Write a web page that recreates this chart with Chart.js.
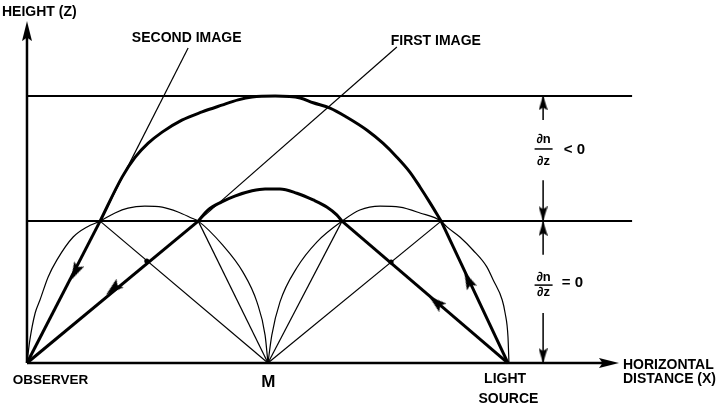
<!DOCTYPE html>
<html>
<head>
<meta charset="utf-8">
<script src="https://cdn.jsdelivr.net/npm/chart.js@4.4.1/dist/chart.umd.min.js"></script>
<style>
html,body{margin:0;padding:0;background:#fff;overflow:hidden}
canvas{display:block}
</style>
</head>
<body>
<canvas id="myChart" width="718" height="408"></canvas>
<script>
// horizontal distance: observer at 0, M at 5, light source at 10 (same unit for height)
var layerTop = 5.55;
var layerBase = 2.95;
var layerEnd = 12.58;

// thick ray paths (light source -> observer)
var secondImageRay = [[0,0],[1.52,2.95]];
var firstImageRay = [[0,0],[3.56,2.95]];
var sourceRayHigh = [[10,0],[8.61,2.95]];
var sourceRayLow = [[10,0],[6.55,2.95]];
var bigArc = [[1.52,2.95],[1.98,3.87],[2.25,4.28],[2.52,4.57],[2.81,4.80],[3.22,5.05],[3.64,5.22],[4.05,5.36],[4.39,5.47],[4.68,5.53],[5.16,5.55],[5.68,5.51],[5.95,5.41],[6.30,5.30],[6.65,5.11],[7.07,4.84],[7.40,4.57],[7.69,4.28],[7.96,3.97],[8.17,3.66],[8.38,3.33],[8.61,2.95]];
var smallArc = [[3.56,2.95],[3.76,3.18],[4.05,3.35],[4.32,3.47],[4.68,3.58],[4.95,3.62],[5.26,3.62],[5.61,3.53],[5.95,3.39],[6.24,3.24],[6.44,3.08],[6.55,2.95]];

// thin construction curves and lines
var leftBow = [[0,0],[0.06,0.48],[0.17,1.04],[0.27,1.31],[0.44,1.79],[0.62,2.14],[0.96,2.62],[1.25,2.83],[1.52,2.95],[1.83,3.12],[2.10,3.22],[2.45,3.26],[2.81,3.24],[3.14,3.14],[3.43,3.01],[3.56,2.95],[4.07,2.45],[4.49,1.89],[4.78,1.27],[4.95,0.58],[5.01,0]];
var rightBow = [[5.01,0],[5.09,0.58],[5.26,1.27],[5.61,1.98],[6.03,2.52],[6.55,2.95],[6.92,3.18],[7.34,3.26],[7.75,3.24],[8.17,3.12],[8.61,2.95],[8.73,2.83],[9.00,2.62],[9.27,2.35],[9.56,2.00],[9.69,1.73],[9.88,1.31],[9.94,1.04],[10.0,0.54],[10.02,0]];
var toM = [[[1.52,2.95],[5.01,0]],[[3.56,2.95],[5.01,0]],[[6.55,2.95],[5.01,0]],[[8.61,2.95],[5.01,0]]];
var secondImageSight = [[1.52,2.95],[3.35,6.55]];
var firstImageSight = [[3.56,2.95],[7.69,6.57]];
var crossings = [[2.49,2.12],[7.57,2.10]];
var rayArrows = [[1.00,1.89],[1.79,1.54],[9.17,1.73],[8.50,1.27]];

// axes and layer markers
var zAxis = [[0,0],[0,6.9]];
var xAxis = [[0,0],[12.1,0]];
var markerX = 10.73;
var markerSegs = [[5.55,5.05],[3.80,2.95],[2.95,2.25],[1.04,0]];
var markerArrows = [5.41,3.10,2.80,0.15];

var labelText = ['HEIGHT (Z)','SECOND IMAGE','FIRST IMAGE','OBSERVER','M','LIGHT','SOURCE','HORIZONTAL','DISTANCE (X)'];
var gradUpper = ['∂n','∂z','< 0'];
var gradLower = ['∂n','∂z','= 0'];

toPts=(arr)=>arr.map(p=>({x:p[0],y:p[1]}));
line=(arr,w,curve)=>{
	var d={data:toPts(arr),showLine:true,borderColor:'#000',borderWidth:w,pointRadius:0,tension:0,fill:false};
	if(curve){ d.cubicInterpolationMode='monotone'; d.tension=0.4; }
	return d;
}

arrowHead=(w,h)=>{
	var c=document.createElement('canvas');
	c.width=w; c.height=h;
	var g=c.getContext('2d');
	g.fillStyle='#000';
	g.beginPath();
	g.moveTo(w/2,0); g.lineTo(w,h); g.lineTo(w/2,h*0.82); g.lineTo(0,h);
	g.closePath(); g.fill();
	return c;
}
var bigHead=arrowHead(10,20);
var rayHead=arrowHead(11,18);
var smallHead=arrowHead(9,15);

var datasets=[];
datasets.push(line([[0,layerTop],[layerEnd,layerTop]],2));
datasets.push(line([[0,layerBase],[layerEnd,layerBase]],2));
datasets.push(line(zAxis,2.5));
datasets.push(line(xAxis,2.5));
datasets.push(line(leftBow,1.2,true));
datasets.push(line(rightBow,1.2,true));
toM.forEach(s=>datasets.push(line(s,1.2)));
datasets.push(line(secondImageSight,1.2));
datasets.push(line(firstImageSight,1.2));
datasets.push(line(secondImageRay,3));
datasets.push(line(firstImageRay,3));
datasets.push(line(sourceRayHigh,3));
datasets.push(line(sourceRayLow,3));
datasets.push(line(bigArc,3,true));
datasets.push(line(smallArc,3,true));
markerSegs.forEach(s=>datasets.push(line([[markerX,s[0]],[markerX,s[1]]],1.5)));
datasets.push({data:toPts(crossings),showLine:false,pointRadius:2.5,pointBackgroundColor:'#000',pointBorderWidth:0});
datasets.push({data:toPts(rayArrows),showLine:false,pointRadius:5,pointStyle:rayHead,pointRotation:[207,230,335,310]});
datasets.push({data:markerArrows.map(z=>({x:markerX,y:z})),showLine:false,pointRadius:5,pointStyle:smallHead,pointRotation:[0,180,0,180]});
datasets.push({data:[{x:zAxis[1][0],y:zAxis[1][1]}],showLine:false,pointRadius:5,pointStyle:bigHead,pointRotation:0});
datasets.push({data:[{x:xAxis[1][0],y:xAxis[1][1]}],showLine:false,pointRadius:5,pointStyle:bigHead,pointRotation:90});

var FONT='"Liberation Sans", Arial, sans-serif';
var labelsPlugin={
	id:'labels',
	afterDatasetsDraw(chart,args,opts){
		var ctx=chart.ctx, xs=chart.scales.x, ys=chart.scales.y;
		ctx.save();
		ctx.fillStyle='#000'; ctx.strokeStyle='#000';
		ctx.textBaseline='middle';
		opts.items.forEach((it,i)=>{
			ctx.font='bold '+it.size+'px '+FONT;
			ctx.textAlign=it.align;
			ctx.fillText(labelText[i], xs.getPixelForValue(it.x), ys.getPixelForValue(it.y));
		});
		opts.fractions.forEach((f,i)=>{
			var txt = i==0 ? gradUpper : gradLower;
			var cx=xs.getPixelForValue(f.cx);
			ctx.textAlign='center';
			ctx.font='bold 13px '+FONT;
			ctx.fillText(txt[0],cx,ys.getPixelForValue(f.num));
			ctx.fillText(txt[1],cx,ys.getPixelForValue(f.den));
			ctx.lineWidth=1.5;
			ctx.beginPath();
			var by=ys.getPixelForValue(f.bar);
			ctx.moveTo(cx-9,by); ctx.lineTo(cx+9,by); ctx.stroke();
			ctx.textAlign='left';
			ctx.font='bold 15px '+FONT;
			ctx.fillText(txt[2],xs.getPixelForValue(f.rx),ys.getPixelForValue(f.rz));
		});
		ctx.restore();
	}
};

var ctx = document.getElementById('myChart').getContext('2d');
var chart = new Chart(ctx, {
	type: 'scatter',
	data: { datasets: datasets },
	options: {
		responsive:false,
		animation:false,
		events:[],
		layout:{padding:0,autoPadding:false},
		scales:{
			x:{type:'linear',display:false,min:-0.561,max:14.366},
			y:{type:'linear',display:false,min:-0.935,max:7.547}
		},
		plugins:{
			legend:{display:false},
			tooltip:{enabled:false},
			labels:{
				items:[
					{x:-0.52,y:7.30,align:'left',size:14},
					{x:3.32,y:6.76,align:'center',size:14},
					{x:8.50,y:6.69,align:'center',size:14},
					{x:0.49,y:-0.35,align:'center',size:13.5},
					{x:5.02,y:-0.40,align:'center',size:17},
					{x:9.94,y:-0.33,align:'center',size:14},
					{x:10.01,y:-0.75,align:'center',size:14},
					{x:12.39,y:-0.04,align:'left',size:14},
					{x:12.39,y:-0.33,align:'left',size:14}
				],
				fractions:[
					{cx:10.74,num:4.64,bar:4.45,den:4.20,rx:11.16,rz:4.43},
					{cx:10.74,num:1.79,bar:1.62,den:1.46,rx:11.12,rz:1.66}
				]
			}
		}
	},
	plugins:[labelsPlugin]
});
</script>
</body>
</html>
